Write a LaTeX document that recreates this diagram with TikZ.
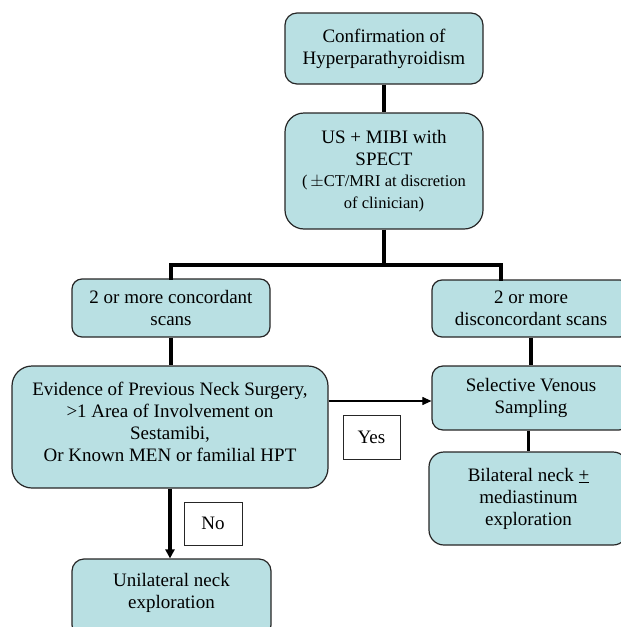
\documentclass[tikz,border=0pt]{standalone}
\usepackage{fontspec}
\setmainfont{Liberation Serif}
\usetikzlibrary{arrows.meta}
\definecolor{boxfill}{RGB}{185,224,227}
\newcommand{\bigtxt}{\fontsize{19}{22}\selectfont}
\newcommand{\smtxt}{\fontsize{16.5}{20}\selectfont}
\begin{document}
\begin{tikzpicture}[x=1pt,y=-1pt,
  flow/.style={draw=black!85, fill=boxfill, line width=1.2pt, align=center, inner sep=0pt, font=\bigtxt},
  lab/.style={draw=black!85, fill=white, line width=1pt, inner sep=0pt, font=\bigtxt},
  conn/.style={line width=3.5pt},
  thinarrow/.style={line width=1.1pt, -{Triangle[length=9pt,width=8pt]}},
  thickarrow/.style={line width=3.5pt, -{Triangle[length=9pt,width=9pt]}}]
\useasboundingbox (0,0) rectangle (621,627);
\clip (0,0) rectangle (621,627);

% boxes
\node[flow, minimum width=198pt, minimum height=71pt, rounded corners=12pt] (conf) at (384,48.5)
  {Confirmation of\\Hyperparathyroidism};
\node[flow, minimum width=198pt, minimum height=116pt, rounded corners=19pt] (us) at (384,171)
  {US + MIBI with\\SPECT\\[-1pt]{\smtxt (\,$\pm$CT/MRI at discretion}\\{\smtxt of clinician)}};
\node[flow, minimum width=198pt, minimum height=58pt, rounded corners=10pt] (conc) at (171,308)
  {2 or more concordant\\scans};
\node[flow, minimum width=198pt, minimum height=57pt, rounded corners=10pt] (disc) at (531,308.5)
  {2 or more\\disconcordant scans};
\node[flow, minimum width=316pt, minimum height=122pt, rounded corners=20pt] (evid) at (170,427)
  {Evidence of Previous Neck Surgery,\\>1 Area of Involvement on\\Sestamibi,\\Or Known MEN or familial HPT\\[-12pt]};
\node[flow, minimum width=198pt, minimum height=64pt, rounded corners=11pt] (svs) at (531,398)
  {Selective Venous\\Sampling};
\node[flow, minimum width=199pt, minimum height=93pt, rounded corners=15pt] (bil) at (528.5,498.5)
  {Bilateral neck \underline{+}\\mediastinum\\exploration};
\node[flow, minimum width=199pt, minimum height=78pt, rounded corners=12pt] (uni) at (171.5,598)
  {Unilateral neck\\exploration\\[-8pt]};

% labels
\node[lab, minimum width=57pt, minimum height=44pt] (yes) at (371.5,437) {Yes};
\node[lab, minimum width=58pt, minimum height=43pt] (no) at (213,523.5) {No};

% connectors
\coordinate (jl) at (171,265);
\coordinate (jr) at (501,265);
\coordinate (ya) at (0,401);
\draw[conn] (conf.south) -- (us.north);
\draw[conn] (us.south) -- (us.south |- jl);
\draw[conn, line cap=rect] (conc.north) -- (jl) -- (jr) -- (jr |- disc.north);
\draw[conn] (conc.south) -- (conc.south |- evid.north);
\draw[conn] (disc.south) -- (svs.north);
\draw[conn] (svs.south -| bil.north) -- (bil.north);
\draw[thinarrow] (evid.east |- ya) -- (svs.west |- ya);
\draw[thickarrow] (evid.south) -- (evid.south |- uni.north);
\end{tikzpicture}
\end{document}
